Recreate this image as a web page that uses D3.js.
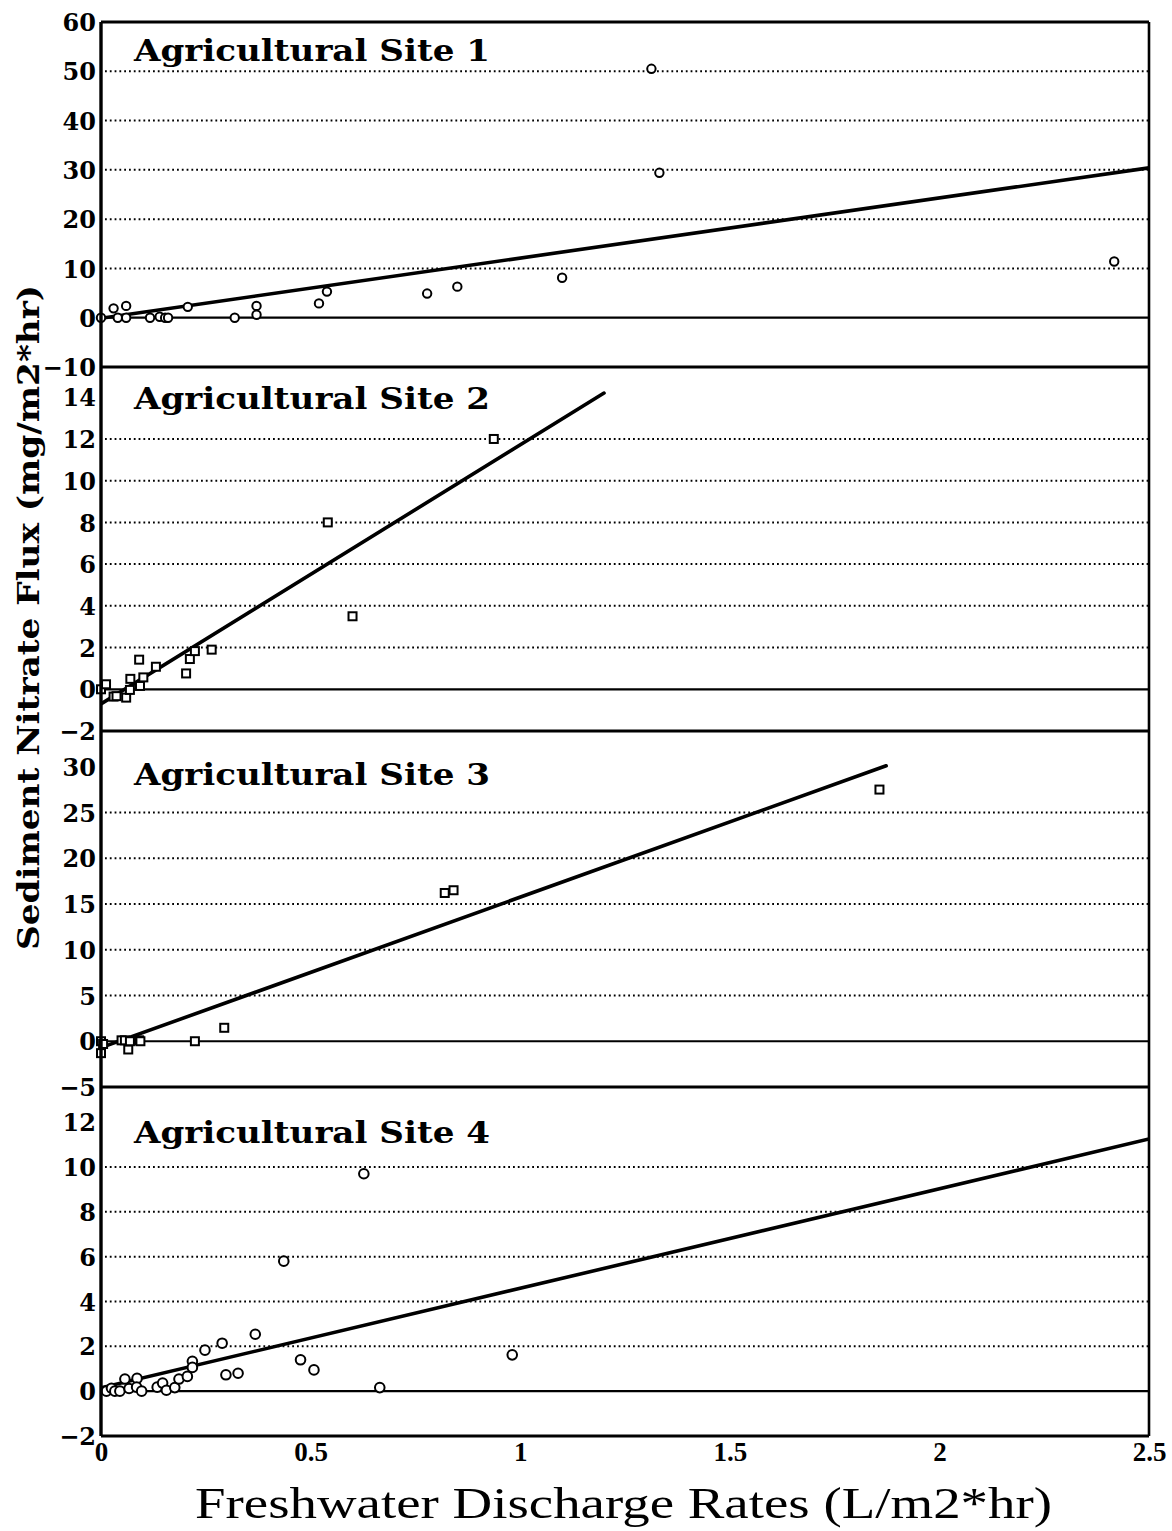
<!DOCTYPE html>
<html>
<head>
<meta charset="utf-8">
<script src="https://cdn.jsdelivr.net/npm/d3@7/dist/d3.min.js"></script>
<style>
  html, body { margin: 0; padding: 0; background: #fff; }
  svg { display: block; }
</style>
</head>
<body>
<svg id="chart" width="1172" height="1531"></svg>
<script>
// ---- data ---------------------------------------------------------------
const panelTitles = ["Agricultural Site 1", "Agricultural Site 2", "Agricultural Site 3", "Agricultural Site 4"];
const panelMarkers = ["circle", "square", "square", "circle"];

const xTicks = [0, 0.5, 1, 1.5, 2, 2.5];
const xTickLabels = ["0", "0.5", "1", "1.5", "2", "2.5"];

const yDomains = [[-10, 60], [-2, 15.45], [-5, 33.9], [-2, 13.57]];
const yTicks = [
  [-10, 0, 10, 20, 30, 40, 50, 60],
  [-2, 0, 2, 4, 6, 8, 10, 12, 14],
  [-5, 0, 5, 10, 15, 20, 25, 30],
  [-2, 0, 2, 4, 6, 8, 10, 12]
];

// site 1: [discharge, flux]
const site1 = [
  [0.0, 0.0], [0.03, 1.9], [0.04, 0.0], [0.06, 2.4], [0.06, 0.0],
  [0.117, 0.0], [0.14, 0.2], [0.153, 0.0], [0.16, 0.0], [0.207, 2.2],
  [0.319, 0.0], [0.371, 2.4], [0.371, 0.6], [0.52, 2.9], [0.539, 5.3],
  [0.778, 4.9], [0.85, 6.3], [1.10, 8.1], [1.313, 50.5], [1.332, 29.4],
  [2.417, 11.4]
];
const site2 = [
  [0.0, 0.0], [0.012, 0.24], [0.03, -0.35], [0.037, -0.33], [0.06, -0.4],
  [0.069, -0.03], [0.07, 0.5], [0.091, 1.42], [0.093, 0.16], [0.101, 0.57],
  [0.131, 1.08], [0.203, 0.76], [0.212, 1.45], [0.224, 1.83], [0.264, 1.9],
  [0.541, 8.0], [0.60, 3.5], [0.937, 12.0]
];
const site3 = [
  [0.0, 0.0], [0.0, -1.3], [0.005, -0.3], [0.049, 0.1], [0.057, 0.1],
  [0.065, -0.9], [0.069, 0.0], [0.091, 0.1], [0.094, 0.0], [0.224, 0.0],
  [0.294, 1.47], [0.82, 16.2], [0.841, 16.5], [1.857, 27.5]
];
const site4 = [
  [0.013, 0.0], [0.025, 0.13], [0.033, 0.0], [0.045, 0.0], [0.057, 0.54],
  [0.067, 0.12], [0.086, 0.57], [0.085, 0.18], [0.097, 0.0], [0.134, 0.18],
  [0.147, 0.36], [0.156, 0.04], [0.176, 0.16], [0.186, 0.54], [0.206, 0.66],
  [0.218, 1.33], [0.218, 1.06], [0.248, 1.83], [0.289, 2.14], [0.298, 0.73],
  [0.327, 0.8], [0.368, 2.54], [0.436, 5.8], [0.476, 1.4], [0.508, 0.95],
  [0.627, 9.7], [0.665, 0.16], [0.981, 1.62]
];
const sites = [site1, site2, site3, site4];

// fitted regression lines, endpoints [discharge, flux]
const fits = [
  [[0, -0.1], [2.5, 30.4]],
  [[0, -0.7], [1.2, 14.2]],
  [[0, -0.7], [1.873, 30.1]],
  [[0, 0.15], [2.5, 11.25]]
];

// ---- layout -------------------------------------------------------------
const plotLeft = 101, plotRight = 1149;
const panelEdges = [22, 367, 731, 1087, 1436];
const titleBaselines = [61, 409, 785, 1143];
const markerSize = [4.2, 4, 4, 4.8];

const svg = d3.select("#chart");
const x = d3.scaleLinear().domain([0, 2.5]).range([plotLeft, plotRight]);

const tickFont = "'DejaVu Serif', serif";
const titleFont = "'DejaVu Serif', serif";
const xLabelFont = "'Liberation Serif', 'DejaVu Serif', serif";

svg.append("defs").append("clipPath").attr("id", "plotClip")
  .append("rect")
  .attr("x", plotLeft).attr("y", panelEdges[0])
  .attr("width", plotRight - plotLeft)
  .attr("height", panelEdges[4] - panelEdges[0]);

sites.forEach((pts, i) => {
  const top = panelEdges[i], bottom = panelEdges[i + 1];
  const y = d3.scaleLinear().domain(yDomains[i]).range([bottom, top]);
  const g = svg.append("g");
  const maxTick = d3.max(yTicks[i]);

  // dotted grid on positive interior ticks
  g.selectAll("line.grid")
    .data(yTicks[i].filter(t => t > 0 && t < maxTick))
    .join("line")
    .attr("class", "grid")
    .attr("x1", plotLeft + 4).attr("x2", plotRight)
    .attr("y1", d => y(d)).attr("y2", d => y(d))
    .attr("stroke", "#000").attr("stroke-width", 2)
    .attr("stroke-dasharray", "1.8,3");

  // zero line
  g.append("line")
    .attr("x1", plotLeft).attr("x2", plotRight)
    .attr("y1", y(0)).attr("y2", y(0))
    .attr("stroke", "#000").attr("stroke-width", 2.2);

  // panel bottom edge
  g.append("line")
    .attr("x1", plotLeft).attr("x2", plotRight)
    .attr("y1", bottom).attr("y2", bottom)
    .attr("stroke", "#000").attr("stroke-width", 2.8);

  // y axis via d3 axis, then styled
  const axis = d3.axisLeft(y).tickValues(yTicks[i]).tickSize(0).tickPadding(4)
    .tickFormat(d => d < 0 ? "\u2212" + Math.abs(d) : String(d));
  const ag = g.append("g").attr("transform", `translate(${plotLeft - 1},0)`).call(axis);
  ag.select(".domain").remove();
  ag.selectAll("text")
    .attr("font-family", tickFont)
    .attr("font-weight", "bold")
    .attr("font-size", 24)
    .attr("fill", "#000")
    .attr("dy", "0.36em");

  // regression line
  g.append("line")
    .attr("clip-path", "url(#plotClip)")
    .attr("x1", x(fits[i][0][0])).attr("y1", y(fits[i][0][1]))
    .attr("x2", x(fits[i][1][0])).attr("y2", y(fits[i][1][1]))
    .attr("stroke", "#000").attr("stroke-width", 3.6)
    .attr("stroke-linecap", "round");

  // points
  const s = markerSize[i];
  if (panelMarkers[i] === "circle") {
    g.selectAll("circle.pt").data(pts).join("circle")
      .attr("class", "pt")
      .attr("cx", d => x(d[0])).attr("cy", d => y(d[1]))
      .attr("r", s)
      .attr("fill", "#fff").attr("stroke", "#000").attr("stroke-width", 2);
  } else {
    g.selectAll("rect.pt").data(pts).join("rect")
      .attr("class", "pt")
      .attr("x", d => x(d[0]) - s).attr("y", d => y(d[1]) - s)
      .attr("width", 2 * s).attr("height", 2 * s)
      .attr("fill", "#fff").attr("stroke", "#000").attr("stroke-width", 2);
  }

  // panel title
  g.append("text")
    .attr("x", 134).attr("y", titleBaselines[i])
    .attr("font-family", titleFont)
    .attr("font-weight", "bold")
    .attr("font-size", 29)
    .attr("textLength", 356)
    .attr("lengthAdjust", "spacingAndGlyphs")
    .attr("fill", "#000")
    .text(panelTitles[i]);
});

// outer frame: top, left, right
svg.append("line").attr("x1", plotLeft).attr("x2", plotRight)
  .attr("y1", panelEdges[0]).attr("y2", panelEdges[0])
  .attr("stroke", "#000").attr("stroke-width", 3);
svg.append("line").attr("x1", plotLeft).attr("x2", plotLeft)
  .attr("y1", panelEdges[0]).attr("y2", panelEdges[4])
  .attr("stroke", "#000").attr("stroke-width", 3.4);
svg.append("line").attr("x1", plotRight).attr("x2", plotRight)
  .attr("y1", panelEdges[0]).attr("y2", panelEdges[4])
  .attr("stroke", "#000").attr("stroke-width", 2.6);

// x axis
const xa = svg.append("g").attr("transform", `translate(0,${panelEdges[4]})`)
  .call(d3.axisBottom(x).tickValues(xTicks).tickSize(0).tickPadding(6)
    .tickFormat((d, k) => xTickLabels[k]));
xa.select(".domain").remove();
xa.selectAll("text")
  .attr("font-family", xLabelFont)
  .attr("font-weight", "bold")
  .attr("font-size", 27)
  .attr("fill", "#000");

// axis titles
svg.append("text")
  .attr("x", 195).attr("y", 1518)
  .attr("font-family", xLabelFont)
  .attr("font-size", 44)
  .attr("textLength", 857)
  .attr("lengthAdjust", "spacingAndGlyphs")
  .attr("fill", "#000")
  .text("Freshwater Discharge Rates (L/m2*hr)");

svg.append("text")
  .attr("transform", "translate(39,950) rotate(-90)")
  .attr("x", 0).attr("y", 0)
  .attr("font-family", titleFont)
  .attr("font-weight", "bold")
  .attr("font-size", 30)
  .attr("textLength", 665)
  .attr("lengthAdjust", "spacingAndGlyphs")
  .attr("fill", "#000")
  .text("Sediment Nitrate Flux (mg/m2*hr)");
</script>
</body>
</html>
